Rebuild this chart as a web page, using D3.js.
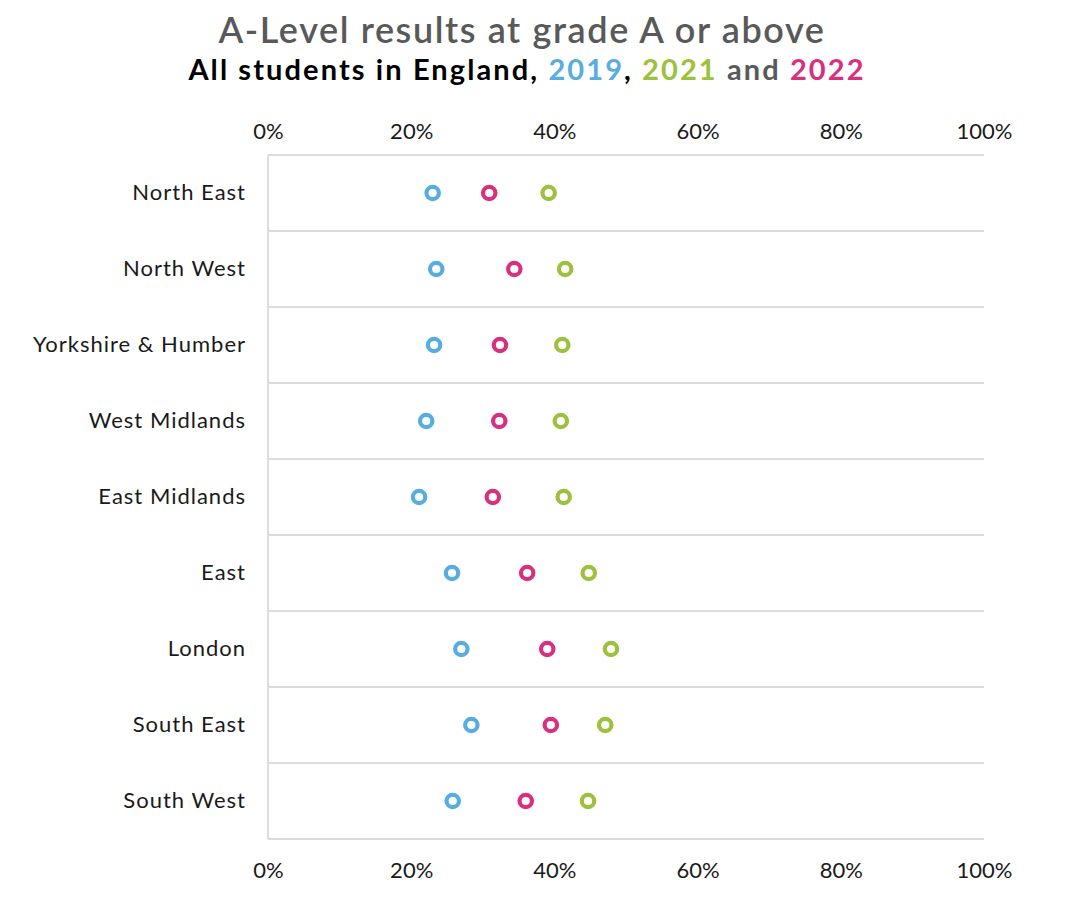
<!DOCTYPE html>
<html>
<head>
<meta charset="utf-8">
<script src="https://cdn.jsdelivr.net/npm/d3@7"></script>
<style>
  body { margin: 0; background: #fff; }
  text { font-family: Lato, "Open Sans", sans-serif; }
</style>
</head>
<body>
<script>
const width = 1080;
const height = 897;

const regions = ['North East', 'North West', 'Yorkshire & Humber', 'West Midlands',
    'East Midlands', 'East', 'London', 'South East', 'South West'];
const years = ['2019', '2021', '2022'];
const values2019 = [23.0, 23.5, 23.2, 22.1, 21.1, 25.7, 27.0, 28.4, 25.8];
const values2021 = [39.2, 41.5, 41.1, 40.9, 41.3, 44.8, 47.9, 47.1, 44.7];
const values2022 = [30.9, 34.4, 32.4, 32.3, 31.4, 36.2, 39.0, 39.5, 36.0];
const tickValues = [0, 20, 40, 60, 80, 100];

const colors = { '2019': '#58ade0', '2021': '#9cc13d', '2022': '#d8307e' };
const series = { '2019': values2019, '2021': values2021, '2022': values2022 };

const margin = { top: 155, right: 96, bottom: 58, left: 268 };

const svg = d3.select('body')
    .append('svg')
    .attr('width', width)
    .attr('height', height);

const x = d3.scaleLinear()
    .domain([0, 100])
    .range([margin.left, width - margin.right]);

const y = d3.scaleBand()
    .domain(regions)
    .range([margin.top, height - margin.bottom]);

// title
svg.append('text')
    .attr('x', 522)
    .attr('y', 43)
    .attr('text-anchor', 'middle')
    .attr('font-size', 36)
    .attr('font-weight', 600)
    .attr('letter-spacing', 1.6)
    .attr('fill', '#595959')
    .text('A-Level results at grade A or above');

const sub = svg.append('text')
    .attr('x', 527)
    .attr('y', 80)
    .attr('text-anchor', 'middle')
    .attr('font-size', 29)
    .attr('font-weight', 700)
    .attr('letter-spacing', 2.1)
    .attr('fill', '#000');
sub.append('tspan').text('All students in England, ');
sub.append('tspan').attr('fill', colors['2019']).text('2019');
sub.append('tspan').text(', ');
sub.append('tspan').attr('fill', colors['2021']).text('2021');
sub.append('tspan').attr('fill', '#595959').text(' and ');
sub.append('tspan').attr('fill', colors['2022']).text('2022');

// row separators
svg.append('g')
    .selectAll('line')
    .data(regions.concat(['end']))
    .enter()
    .append('line')
    .attr('x1', margin.left)
    .attr('x2', width - margin.right)
    .attr('y1', (d, i) => margin.top + i * y.step())
    .attr('y2', (d, i) => margin.top + i * y.step())
    .attr('stroke', '#dcdcdc')
    .attr('stroke-width', 2);

svg.append('line')
    .attr('x1', margin.left)
    .attr('x2', margin.left)
    .attr('y1', margin.top)
    .attr('y2', height - margin.bottom)
    .attr('stroke', '#dcdcdc')
    .attr('stroke-width', 2);

// axes (top and bottom)
const fmt = (d) => d + '%';
const topAxis = svg.append('g')
    .attr('transform', `translate(0,${margin.top})`)
    .call(d3.axisTop(x).tickValues(tickValues).tickFormat(fmt).tickSize(0).tickPadding(16));
const bottomAxis = svg.append('g')
    .attr('transform', `translate(0,${height - margin.bottom})`)
    .call(d3.axisBottom(x).tickValues(tickValues).tickFormat(fmt).tickSize(0).tickPadding(23));

[topAxis, bottomAxis].forEach((g) => {
    g.select('.domain').remove();
    g.selectAll('text')
        .attr('font-family', 'Lato, "Open Sans", sans-serif')
        .attr('font-size', 22)
        .attr('fill', '#1a1a1a');
});

// category labels
const leftAxis = svg.append('g')
    .attr('transform', `translate(${margin.left},0)`)
    .call(d3.axisLeft(y).tickSize(0).tickPadding(22));
leftAxis.select('.domain').remove();
leftAxis.selectAll('text')
    .attr('font-family', 'Lato, "Open Sans", sans-serif')
    .attr('font-size', 22)
    .attr('letter-spacing', 1)
    .attr('fill', '#1a1a1a');

// dots
years.forEach((yr) => {
    svg.append('g')
        .selectAll('circle')
        .data(series[yr])
        .enter()
        .append('circle')
        .attr('cx', (d) => x(d))
        .attr('cy', (d, i) => y(regions[i]) + y.bandwidth() / 2)
        .attr('r', 6.2)
        .attr('fill', '#fff')
        .attr('stroke', colors[yr])
        .attr('stroke-width', 4.2);
});
</script>
</body>
</html>
